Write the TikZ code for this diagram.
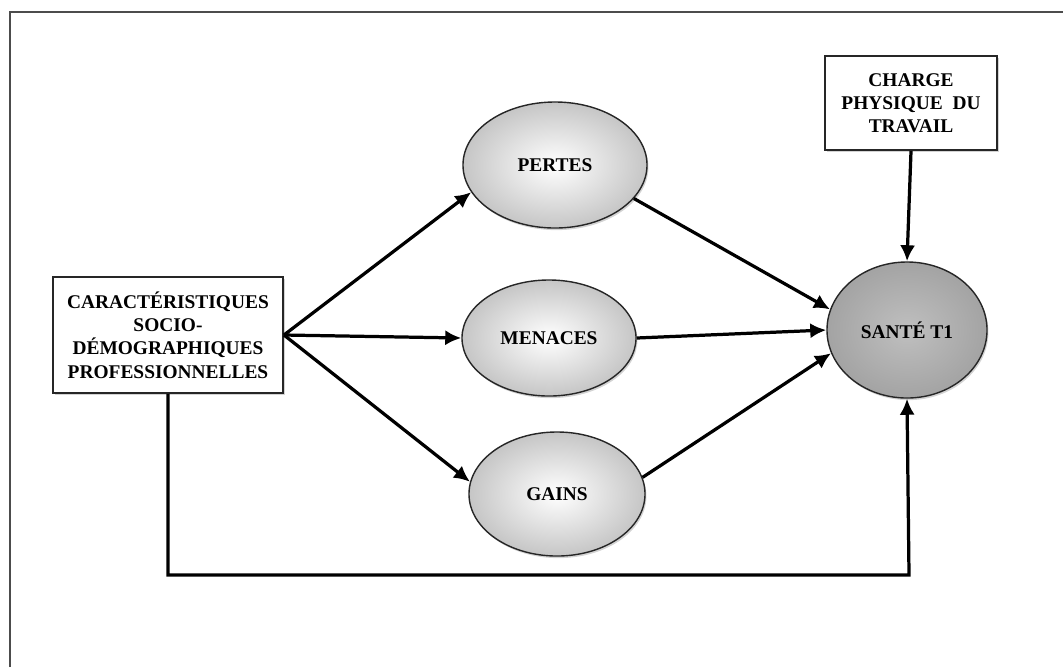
\documentclass[tikz,border=0pt]{standalone}
\usepackage{fontspec}
\setmainfont{Liberation Serif}
\usetikzlibrary{positioning, calc, shapes.geometric, shadows, arrows.meta}

\begin{document}
\begin{tikzpicture}[
        x=0.025cm, y=-0.025cm,
        factor/.style={
          align=center, draw=black!85, line width=1.3pt, fill=white,
          font=\bfseries\fontsize{13.8}{16.5}\selectfont, inner sep=2pt,
          drop shadow={shadow xshift=1.2pt, shadow yshift=-1.2pt, opacity=0.35}
        },
        mediator/.style={
          ellipse, draw=black!85, line width=1pt, inner color=white, outer color=gray!45,
          font=\bfseries\fontsize{13.8}{16.5}\selectfont, inner sep=0pt,
          drop shadow={shadow xshift=1pt, shadow yshift=-1.5pt, opacity=0.35}
        },
        outcome/.style={
          mediator, inner color=gray!50, outer color=gray!72
        },
        link/.style={
          ->, line width=2.3pt
        },
        >={Latex[length=4mm, width=3.8mm]},
      ]
        \useasboundingbox (0,0) rectangle (1063,667);

        % frame
        \draw [line width=1.4pt, black!70] (10,667) -- (10,12) -- (1063,12);

        % Predictors
        \node [factor, minimum width=5.75cm, minimum height=2.9cm] (socio) at (168,335)
          {CARACTÉRISTIQUES\\SOCIO-\\DÉMOGRAPHIQUES\\PROFESSIONNELLES};
        \node [factor, minimum width=4.3cm, minimum height=2.35cm] (charge) at (911,103)
          {CHARGE\\PHYSIQUE~ DU\\TRAVAIL};

        % Resources
        \node [mediator, minimum width=4.6cm, minimum height=3.15cm] (pertes) at (555,165) {PERTES};
        \node [mediator, minimum width=4.35cm, minimum height=2.9cm] (menaces) at (549,338) {MENACES};
        \node [mediator, minimum width=4.4cm, minimum height=3.1cm] (gains) at (557,494) {GAINS};

        % Outcome
        \node [outcome, minimum width=4cm, minimum height=3.4cm] (sante) at (907,330) {SANTÉ T1};

        % Paths
        \draw [link] (socio.east) -- (pertes.198);
        \draw [link] (socio.east) -- (menaces.west);
        \draw [link] (socio.east) -- (gains.172);
        \draw [link] (pertes.-23) -- (sante.165);
        \draw [link] (menaces.east) -- (sante.west);
        \draw [link] (gains.11) -- (sante.197);
        \draw [link] (charge.south) -- (sante.north);

        \coordinate (corner) at (909,575);
        \draw [link] (socio.south) |- (corner) -- (sante.south);

      \end{tikzpicture}
\end{document}
